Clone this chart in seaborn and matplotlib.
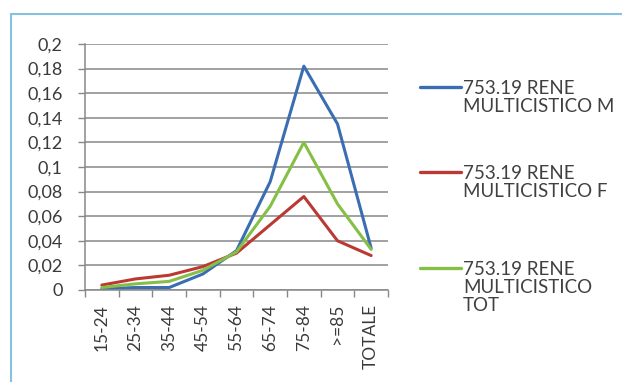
import matplotlib
matplotlib.use("Agg")
import matplotlib.pyplot as plt
from matplotlib.lines import Line2D
from matplotlib.patches import Rectangle
from matplotlib.ticker import FuncFormatter, FixedLocator
import seaborn as sns
import pandas as pd

categories = ["15-24", "25-34", "35-44", "45-54", "55-64", "65-74", "75-84", ">=85", "TOTALE"]
male = [0.001, 0.002, 0.002, 0.013, 0.032, 0.088, 0.182, 0.135, 0.034]
female = [0.004, 0.009, 0.012, 0.019, 0.030, 0.053, 0.076, 0.040, 0.028]
total = [0.002, 0.005, 0.007, 0.016, 0.031, 0.068, 0.120, 0.070, 0.033]
series_names = ["753.19 RENE\nMULTICISTICO M", "753.19 RENE\nMULTICISTICO F", "753.19 RENE\nMULTICISTICO\nTOT"]
colors = ["#3B6DB3", "#BA3A33", "#86BF45"]

sns.set_theme(style="white")
plt.rcParams["font.family"] = ["Lato", "DejaVu Sans"]

rows = []
for name, vals in zip(series_names, [male, female, total]):
    for i, (c, v) in enumerate(zip(categories, vals)):
        rows.append({"pos": i, "cat": c, "val": v, "serie": name})
df = pd.DataFrame(rows)

fig = plt.figure(figsize=(6.22, 3.82), dpi=100)
fig.patch.set_facecolor("white")
ax = fig.add_axes([85 / 622, 1 - 290 / 382, (388 - 85) / 622, (290 - 44) / 382])

sns.lineplot(data=df, x="pos", y="val", hue="serie", palette=colors,
             linewidth=2.2, ax=ax, legend=False, sort=False)

ax.set_xlim(-0.5, len(categories) - 0.5)
ax.set_ylim(0, 0.2)
ax.set_xlabel("")
ax.set_ylabel("")

ax.yaxis.set_major_locator(FixedLocator([i * 0.02 for i in range(11)]))
ax.yaxis.set_major_formatter(FuncFormatter(
    lambda v, p: "0" if abs(v) < 1e-9 else f"{v:.2f}".rstrip("0").replace(".", ",")))
ax.grid(axis="y", color="#888888", linewidth=1.1)
ax.set_axisbelow(True)

# category labels centred, tick marks between categories
ax.set_xticks(range(len(categories)))
ax.set_xticklabels(categories, rotation=90, fontsize=12.5, color="#3a3a3a")
ax.set_xticks([i - 0.5 for i in range(len(categories) + 1)], minor=True)
ax.tick_params(axis="x", which="major", length=0, pad=10)
ax.tick_params(axis="x", which="minor", length=5, color="#888888", width=1, direction="out")
ax.tick_params(axis="y", length=5, color="#888888", width=1, direction="out",
               labelsize=13, labelcolor="#3a3a3a", pad=11)
ax.tick_params(bottom=True, left=True, which="both")

for s in ["top", "right"]:
    ax.spines[s].set_visible(False)
for s in ["left", "bottom"]:
    ax.spines[s].set_color("#888888")
    ax.spines[s].set_linewidth(1.1)

# legend drawn beside the plot
legend_y = [87, 172, 268]
for name, col, y in zip(series_names, colors, legend_y):
    yf = 1 - y / 382
    fig.add_artist(Line2D([420 / 622, 461 / 622], [yf, yf], color=col, linewidth=2.4,
                          transform=fig.transFigure))
    fig.text(463 / 622, yf + 7 / 382, name, fontsize=13.5, color="#404040",
             va="top", ha="left", linespacing=1.08)

# chart frame
fig.add_artist(Rectangle((11 / 622, -0.05), 1.0, 1 - 13.5 / 382 + 0.05,
                         transform=fig.transFigure, fill=False,
                         edgecolor="#86C1E0", linewidth=1.5))

fig.savefig("out.png", dpi=100, facecolor="white")
